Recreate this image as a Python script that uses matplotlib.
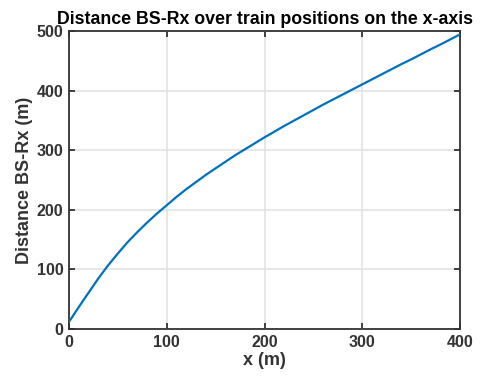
import matplotlib
matplotlib.use("Agg")
import matplotlib.pyplot as plt

# train position along the x-axis (m)
x_pos = [0, 10, 20, 30, 40, 50, 60, 70, 80, 90,
         100, 110, 120, 130, 140, 150, 160, 170, 180, 190,
         200, 210, 220, 230, 240, 250, 260, 270, 280, 290,
         300, 310, 320, 330, 340, 350, 360, 370, 380, 390, 400]

# distance between base station and receiver (m)
dist = [12, 37, 61, 85, 107, 127, 146, 163, 179, 194,
        208, 222, 235, 247, 259, 270, 281, 292, 302, 312,
        322, 331.5, 341, 350, 359, 368, 377, 385.5, 394, 402.5,
        411, 419.5, 428, 436.5, 445, 453, 461.5, 470, 478, 486.5, 495]

x_ticks = [0, 100, 200, 300, 400]
y_ticks = [0, 100, 200, 300, 400, 500]

plt.rcParams['font.family'] = ['Liberation Sans', 'DejaVu Sans']
plt.rcParams['font.weight'] = 'bold'

axis_col = '#333333'

fig = plt.figure(figsize=(4.8, 3.83), dpi=100)
ax = fig.add_axes([0.1438, 0.141, 0.8146, 0.777])

ax.plot(x_pos, dist, color='#0072BD', linewidth=1.6, zorder=3)

ax.set_xlim(0, 400)
ax.set_ylim(0, 500)
ax.set_xticks(x_ticks)
ax.set_yticks(y_ticks)

ax.grid(True, color='#e3e3e3', linewidth=1.2)
ax.set_axisbelow(True)

for s in ax.spines.values():
    s.set_color(axis_col)
    s.set_linewidth(1.3)

ax.tick_params(direction='in', length=4, width=1.3, colors=axis_col,
               top=True, right=True, labelsize=11.5, pad=4)
for lab in ax.get_xticklabels() + ax.get_yticklabels():
    lab.set_fontweight('bold')

ax.set_xlabel('x (m)', fontsize=13, fontweight='bold', color=axis_col, labelpad=2)
ax.set_ylabel('Distance BS-Rx (m)', fontsize=13, fontweight='bold', color=axis_col, labelpad=3)
ax.set_title('Distance BS-Rx over train positions on the x-axis',
             fontsize=12.8, fontweight='bold', color='black', pad=5)

fig.savefig('out.png', dpi=100)
